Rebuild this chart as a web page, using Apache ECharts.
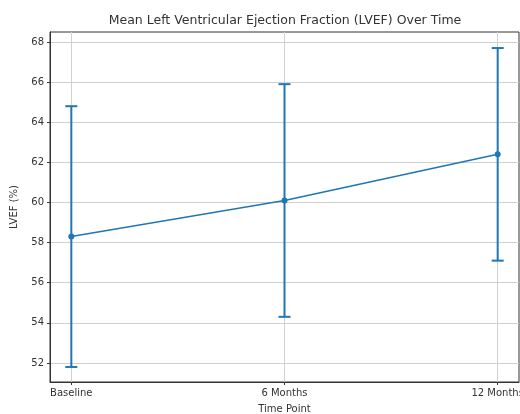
<!DOCTYPE html>
<html><head><meta charset="utf-8">
<script src="https://cdn.jsdelivr.net/npm/echarts@6/dist/echarts.min.js"></script>
<style>html,body{margin:0;padding:0;background:#fff}#c{width:520px;height:414px}</style>
</head><body><div id="c"></div>
<script>
const categories = ['Baseline', '6 Months', '12 Months'];
const meanLVEF = [58.3, 60.1, 62.4];
const lowerLVEF = [51.8, 54.3, 57.1];
const upperLVEF = [64.8, 65.9, 67.7];
const yTicks = [52, 54, 56, 58, 60, 62, 64, 66, 68];
const chartTitle = 'Mean Left Ventricular Ejection Fraction (LVEF) Over Time';

const xIdx = categories.map((c, i) => i);
const FONT = 'DejaVu Sans';
const TXT = '#333';
const BLUE = '#1f77b4';

const chart = echarts.init(document.getElementById('c'), null, {renderer: 'canvas'});
chart.setOption({
  animation: false,
  backgroundColor: '#fff',
  graphic: [{
    type: 'text', x: 285, y: 14,
    style: {text: chartTitle, fontFamily: FONT, fontSize: 12.5, fill: TXT, textAlign: 'center', textVerticalAlign: 'top'}
  }],
  grid: {left: 50, right: 1, top: 32, bottom: 32, show: true, borderColor: '#333', borderWidth: 1,
    containLabel: false, outerBoundsMode: 'none'},
  xAxis: {
    type: 'value', min: -0.1, max: 2.1,
    name: 'Time Point', nameLocation: 'middle', nameGap: 22,
    nameTextStyle: {fontFamily: FONT, fontSize: 10, color: TXT},
    axisLine: {show: true, onZero: false, lineStyle: {color: '#333', width: 1}},
    axisTick: {show: true, length: 3, customValues: xIdx, lineStyle: {color: '#333'}},
    axisLabel: {customValues: xIdx, fontFamily: FONT, fontSize: 10, color: TXT, margin: 6,
      hideOverlap: false, formatter: v => categories[Math.round(v)]},
    splitLine: {show: true, lineStyle: {color: '#d0d0d0', width: 1}}
  },
  yAxis: {
    type: 'value', min: 51.05, max: 68.5,
    name: 'LVEF (%)', nameLocation: 'middle', nameGap: 31,
    nameTextStyle: {fontFamily: FONT, fontSize: 10, color: TXT},
    axisLine: {show: true, onZero: false, lineStyle: {color: '#333', width: 1}},
    axisTick: {show: true, length: 3, customValues: yTicks, lineStyle: {color: '#333'}},
    axisLabel: {customValues: yTicks, fontFamily: FONT, fontSize: 10, color: TXT, margin: 6,
      formatter: v => String(Math.round(v))},
    splitLine: {show: true, lineStyle: {color: '#d0d0d0', width: 1}}
  },
  series: [
    {
      type: 'custom',
      data: xIdx.map(i => [i, lowerLVEF[i], upperLVEF[i]]),
      encode: {x: 0, y: [1, 2]},
      z: 3,
      renderItem: function (params, api) {
        const x = api.value(0);
        const lo = api.coord([x, api.value(1)]);
        const hi = api.coord([x, api.value(2)]);
        const cw = 6;
        const st = {stroke: BLUE, lineWidth: 2};
        return {type: 'group', children: [
          {type: 'line', shape: {x1: lo[0], y1: lo[1], x2: hi[0], y2: hi[1]}, style: st},
          {type: 'line', shape: {x1: lo[0] - cw, y1: lo[1], x2: lo[0] + cw, y2: lo[1]}, style: st},
          {type: 'line', shape: {x1: hi[0] - cw, y1: hi[1], x2: hi[0] + cw, y2: hi[1]}, style: st}
        ]};
      }
    },
    {
      type: 'line',
      data: xIdx.map(i => [i, meanLVEF[i]]),
      z: 4,
      symbol: 'circle', symbolSize: 6,
      lineStyle: {color: BLUE, width: 1.5},
      itemStyle: {color: BLUE}
    }
  ]
});
</script></body></html>
